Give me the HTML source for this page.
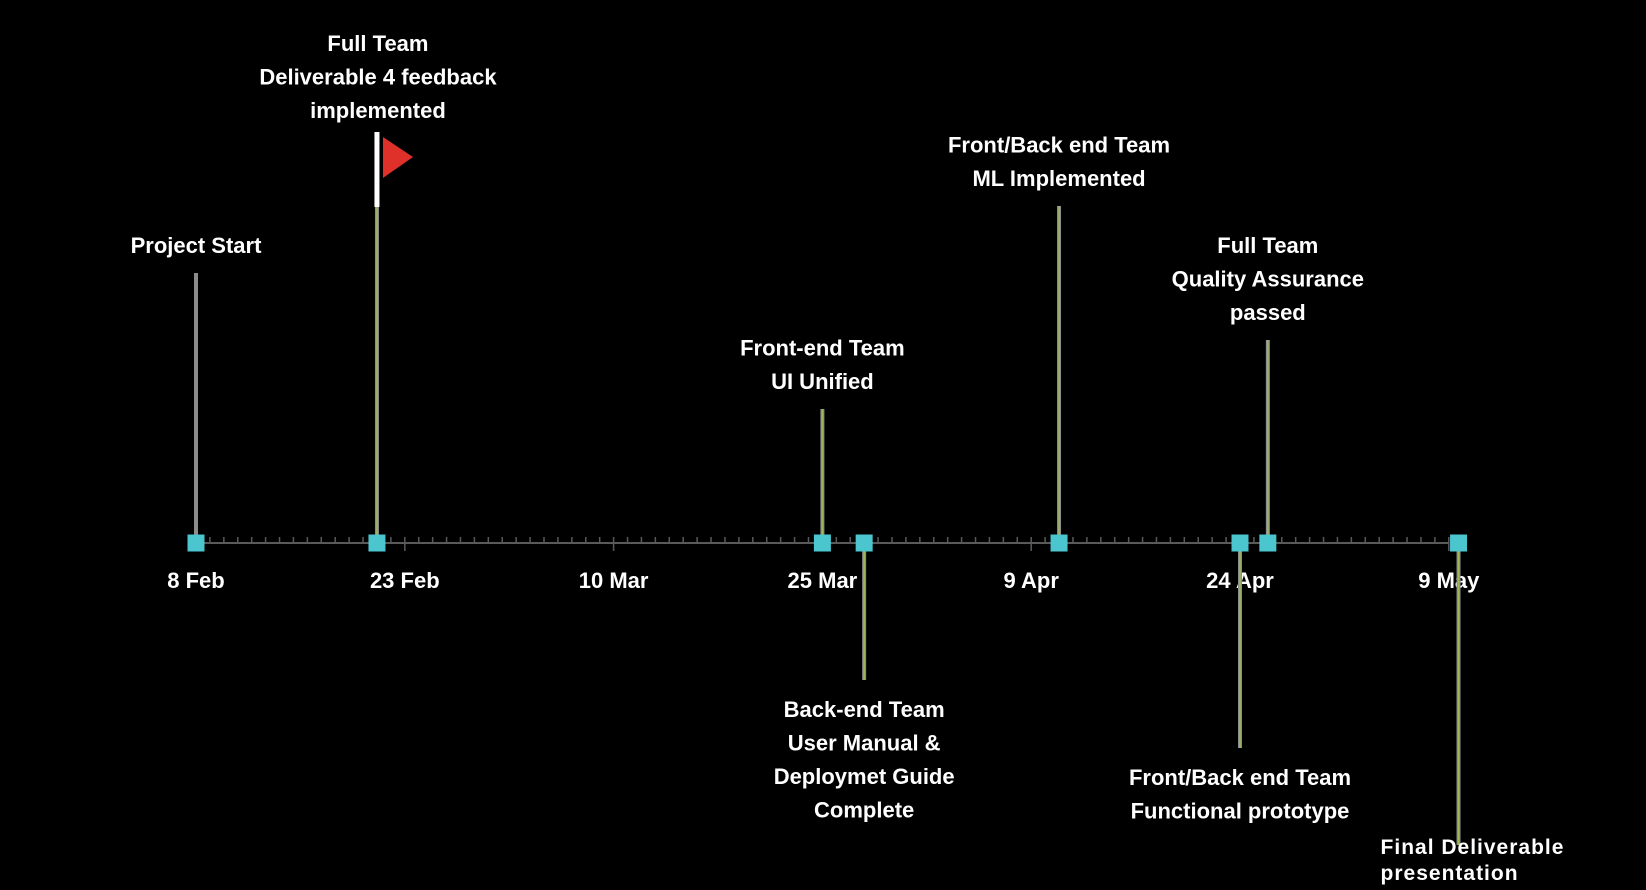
<!DOCTYPE html>
<html><head><meta charset="utf-8">
<style>
html,body{margin:0;padding:0;background:#000;}
svg{display:block}
text{font-family:"Liberation Sans",sans-serif;font-weight:bold;fill:#fff;}
</style></head>
<body>
<svg id="chart" width="1646" height="890" viewBox="0 0 1646 890">
<rect width="1646" height="890" fill="#000"/>
<g id="axis"></g>
<g id="stems"></g>
<g id="labels"></g>
</svg>
<script>
// Data: day offsets from 8 Feb
const tickLabels = ["8 Feb","23 Feb","10 Mar","25 Mar","9 Apr","24 Apr","9 May"];
const tickDays = [0,15,30,45,60,75,90];
const milestoneDays = [0,13,45,48,62,75,77,90.7];
const milestoneHeights = [270,411,134,-137,337,-205,203,-302]; // stem length above (+) / below (-) axis
const milestoneLabels = [
 ["Project Start"],
 ["Full Team","Deliverable 4 feedback","implemented"],
 ["Front-end Team","UI Unified"],
 ["Back-end Team","User Manual &","Deploymet Guide","Complete"],
 ["Front/Back end Team","ML Implemented"],
 ["Front/Back end Team","Functional prototype"],
 ["Full Team","Quality Assurance","passed"],
 ["Final Deliverable","presentation"]
];
const NS="http://www.w3.org/2000/svg";
const X0=196, PX=13.92, AY=543;
function xs(d){return X0+d*PX;}
function ys(h){return AY-h;}
function mk(tag,attrs,parent){const e=document.createElementNS(NS,tag);for(const k in attrs)e.setAttribute(k,attrs[k]);parent.appendChild(e);return e;}
const axis=document.getElementById('axis'),stems=document.getElementById('stems'),labels=document.getElementById('labels');
let al=mk('line',{x1:xs(0),x2:xs(90),y1:AY,y2:AY,stroke:'#5a5a5a','stroke-width':2},axis);


for(let d=0;d<=90;d++){
 const major=tickDays.includes(d);
 const t=mk('line',{x1:xs(d),x2:xs(d),y1:AY-6,y2:major?AY+8:AY,stroke:'#5a5a5a','stroke-width':1.5},axis);
 
 
}
tickDays.forEach((d,i)=>{
 const t=mk('text',{x:xs(d),y:588,'text-anchor':'middle','font-size':22},axis);
 t.textContent=tickLabels[i];
 
 
});
milestoneDays.forEach((d,i)=>{
 const x=xs(d),h=milestoneHeights[i],yEnd=ys(h);
 const g=mk('g',{},stems);
 
 
 mk('line',{x1:x,x2:x,y1:AY,y2:yEnd,stroke:'#8c8c8c','stroke-width':4},g);
 if(i>0) mk('line',{x1:x,x2:x,y1:AY,y2:yEnd,stroke:'#9bbb59','stroke-width':1.5},g);
 if(i===1){
  mk('line',{x1:x,x2:x,y1:yEnd,y2:yEnd+75,stroke:'#fff','stroke-width':5},g);
  const f=mk('polygon',{points:`${x+6},${yEnd+5} ${x+36},${yEnd+25} ${x+6},${yEnd+46}`,fill:'#e0302a'},g);
  
  
 }
 const m=mk('rect',{x:x-8.5,y:AY-8.5,width:17,height:17,fill:'#4bc6cf'},g);
 
 
 const lines=milestoneLabels[i];
 const lh=33.5;
 lines.forEach((s,j)=>{
  let t;
  if(i===7){
   t=mk('text',{x:x-78,y:854+j*26,'text-anchor':'start','font-size':21,'font-family':'DejaVu Sans','letter-spacing':1},labels);
  } else if(h>0){
   const base=yEnd-20-(lines.length-1-j)*lh+(i===1?6:0);
   t=mk('text',{x:x+(i===1?1:0),y:base,'text-anchor':'middle','font-size':22},labels);
  } else {
   t=mk('text',{x:x,y:yEnd+37+j*lh,'text-anchor':'middle','font-size':22},labels);
  }
  t.textContent=s;
  
  
 });
});
</script>
</body></html>
